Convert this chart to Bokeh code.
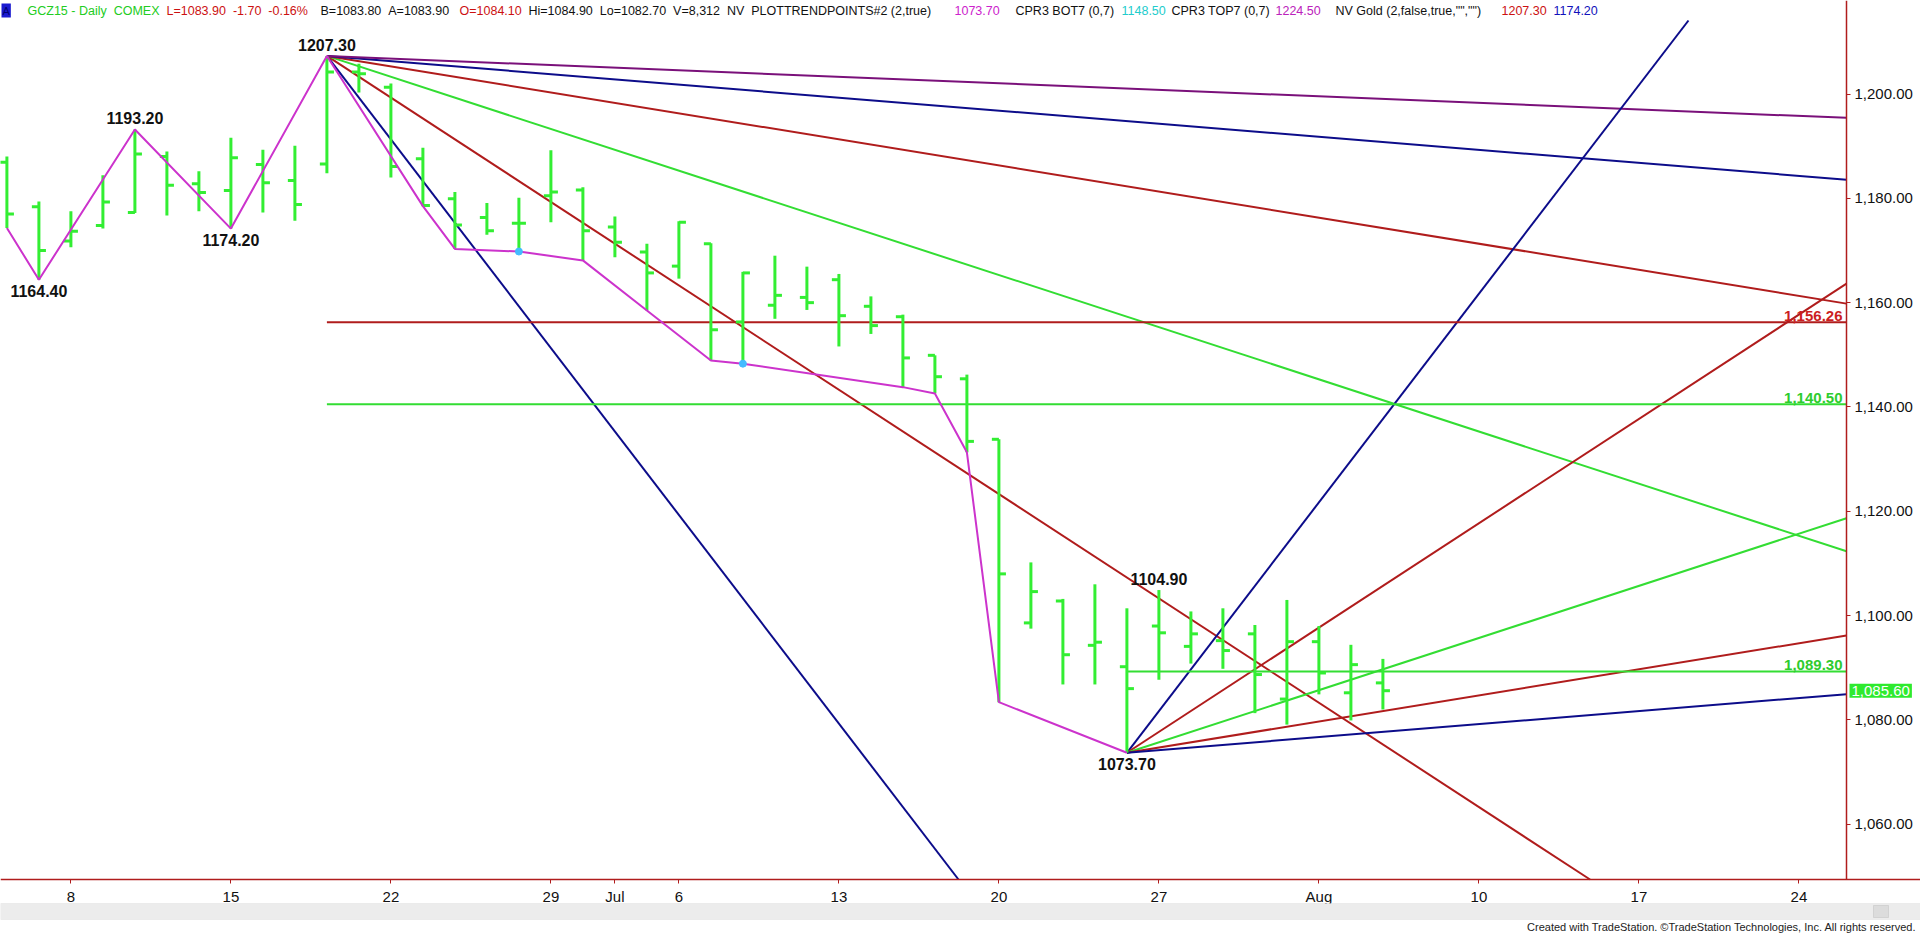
from bokeh.plotting import figure
from bokeh.models import (ColumnDataSource, FixedTicker, NumeralTickFormatter, Label,
                          BoxAnnotation, Range1d)
from bokeh.embed import file_html
from bokeh.resources import INLINE
from bokeh.core.properties import value

# ---------------- data ----------------
bar_dates = ["Jun 4", "Jun 5", "Jun 8", "Jun 9", "Jun 10", "Jun 11", "Jun 12", "Jun 15",
             "Jun 16", "Jun 17", "Jun 18", "Jun 19", "Jun 22", "Jun 23", "Jun 24", "Jun 25",
             "Jun 26", "Jun 29", "Jun 30", "Jul 1", "Jul 2", "Jul 6", "Jul 7", "Jul 8",
             "Jul 9", "Jul 10", "Jul 13", "Jul 14", "Jul 15", "Jul 16", "Jul 17", "Jul 20",
             "Jul 21", "Jul 22", "Jul 23", "Jul 24", "Jul 27", "Jul 28", "Jul 29", "Jul 30",
             "Jul 31", "Aug 3", "Aug 4", "Aug 5"]
opens = [1186.9, 1178.4, 1171.8, 1174.8, 1177.3, 1188.0, 1182.8, 1181.5, 1186.5, 1183.4,
         1186.6, 1204.2, 1201.3, 1187.6, 1179.9, 1176.3, 1175.2, 1180.5, 1181.6, 1174.5,
         1169.7, 1167.0, 1171.3, 1156.3, 1159.5, 1161.0, 1164.4, 1159.3, 1157.3, 1149.9,
         1145.4, 1133.8, 1098.6, 1102.8, 1094.3, 1090.2, 1098.0, 1094.1, 1095.2, 1096.5,
         1084.0, 1095.0, 1085.2, 1087.1]
highs = [1188.0, 1179.4, 1177.5, 1184.4, 1193.2, 1189.0, 1185.2, 1191.6, 1189.3, 1190.1,
         1207.3, 1205.8, 1202.0, 1189.7, 1181.2, 1179.1, 1180.1, 1189.2, 1182.1, 1176.5,
         1171.3, 1175.6, 1171.4, 1165.9, 1169.0, 1166.9, 1165.5, 1161.2, 1157.7, 1149.9,
         1146.2, 1133.8, 1110.2, 1103.2, 1106.0, 1101.4, 1104.9, 1100.8, 1101.4, 1098.2,
         1103.0, 1098.0, 1094.4, 1091.7]
lows = [1174.3, 1164.4, 1170.6, 1174.2, 1177.2, 1176.7, 1177.5, 1174.2, 1177.3, 1175.7,
        1184.8, 1200.3, 1184.0, 1178.5, 1170.3, 1173.0, 1169.8, 1175.4, 1168.1, 1168.7,
        1158.5, 1164.6, 1148.9, 1148.3, 1156.9, 1158.6, 1151.6, 1154.0, 1143.8, 1142.6,
        1131.3, 1083.4, 1097.5, 1086.8, 1086.8, 1073.7, 1087.7, 1090.8, 1089.8, 1081.3,
        1079.1, 1084.9, 1079.9, 1082.0]
closes = [1177.0, 1170.0, 1173.7, 1179.3, 1188.5, 1182.5, 1181.1, 1187.8, 1183.0, 1178.8,
          1204.2, 1203.9, 1186.1, 1178.6, 1174.9, 1173.8, 1175.2, 1181.2, 1173.8, 1171.6,
          1165.7, 1175.4, 1154.8, 1165.7, 1161.4, 1160.0, 1157.5, 1155.6, 1149.4, 1145.8,
          1133.4, 1108.0, 1104.6, 1092.5, 1094.9, 1086.0, 1096.7, 1096.5, 1093.3, 1088.7,
          1095.0, 1089.0, 1090.6, 1085.6]

# x-axis ticks (trading-day index -> label)
x_tick_idx = [2, 7, 12, 17, 19, 21, 26, 31, 36, 41, 46, 51, 56]
x_tick_labels = ["8", "15", "22", "29", "Jul", "6", "13", "20", "27", "Aug", "10", "17", "24"]
y_ticks = [1060, 1080, 1100, 1120, 1140, 1160, 1180, 1200]

# swing trend points (magenta)
trend_idx = [0, 1, 4, 7, 10, 13, 14, 16, 18, 20, 22, 23, 28, 29, 30, 31, 35]
trend_val = [1174.3, 1164.4, 1193.2, 1174.2, 1207.3, 1178.5, 1170.3, 1169.8, 1168.1,
             1158.5, 1148.9, 1148.3, 1143.8, 1142.6, 1131.3, 1083.4, 1073.7]
dot_idx = [16, 23]
dot_val = [1169.8, 1148.3]

# pivot labels
pivot_idx = [1, 4, 7, 10, 36, 35]
pivot_val = [1164.40, 1193.20, 1174.20, 1207.30, 1104.90, 1073.70]
pivot_side = ["below", "above", "below", "above", "above", "below"]

# Gann fans (price change per bar)
fan_high_idx, fan_high_val = 10, 1207.3
fan_high_rates = [-8, -4, -2, -1, -0.5, -0.25]
fan_high_colors = ["#0c0c8a", "#b01c1c", "#33dd33", "#b01c1c", "#0c0c8a", "#7a107a"]
fan_low_idx, fan_low_val = 35, 1073.7
fan_low_rates = [8, 4, 2, 1, 0.5]
fan_low_colors = ["#0c0c8a", "#b01c1c", "#33dd33", "#b01c1c", "#0c0c8a"]

# horizontal levels
level_vals = [1156.26, 1140.50, 1089.30]
level_start = [10, 10, 35]
level_colors = ["#b01c1c", "#33dd33", "#33dd33"]
level_text_colors = ["#cc1f1f", "#2ecc2e", "#2ecc2e"]
level_labels = ["1,156.26", "1,140.50", "1,089.30"]

last_price = 1085.60

S2 = " \u00a0"   # double space kept in SVG text
header_parts = [
    ("GCZ15 - Daily" + S2 + "COMEX", "#22cc22", 27),
    ("L=1083.90" + S2 + "-1.70" + S2 + "-0.16%", "#cc1111", 166),
    ("B=1083.80" + S2 + "A=1083.90", "#111111", 320),
    ("O=1084.10", "#cc1111", 459),
    ("Hi=1084.90" + S2 + "Lo=1082.70" + S2 + "V=8,312" + S2 + "NV" + S2 +
     "PLOTTRENDPOINTS#2 (2,true)", "#111111", 528),
    ("1073.70", "#cc22cc", 954),
    ("CPR3 BOT7 (0,7)", "#111111", 1015),
    ("1148.50", "#22cccc", 1121),
    ("CPR3 TOP7 (0,7)", "#111111", 1171),
    ("1224.50", "#bb22bb", 1275),
    ('NV Gold (2,false,true,"","")', "#111111", 1335),
    ("1207.30", "#cc1111", 1501),
    ("1174.20", "#1111bb", 1553),
]
footer_text = "Created with TradeStation. \u00a9TradeStation Technologies, Inc. All rights reserved."

# ---------------- layout (page pixels == canvas pixels) ----------------
W, H = 1920, 934
PX0, PXB = 6.4, 32.0            # page x of bar 0, pixels per bar
PY0, PXU = 93.5, 5.216          # page y of 1200.00, pixels per dollar
FONT = "Liberation Sans"

def xpage(px):
    return (px - PX0) / PXB

def ypage(py):
    return 1200 - (py - PY0) / PXU

X1v = xpage(1846)   # right edge of the price panel (bars)
Y0v = ypage(879)    # bottom of the price panel
Y1v = ypage(20)     # top of the price panel

p = figure(width=W, height=H, output_backend="svg", toolbar_location=None,
           x_range=Range1d(xpage(0), xpage(W)), y_range=Range1d(ypage(H), ypage(0)),
           y_axis_location="right", min_border=0,
           min_border_left=0, min_border_right=0, min_border_top=0, min_border_bottom=0,
           background_fill_color="white", border_fill_color="white",
           outline_line_color=None)
p.grid.visible = False

AX = "#b01c1c"
p.yaxis.ticker = FixedTicker(ticks=y_ticks)
p.yaxis.formatter = NumeralTickFormatter(format="0,0.00")
p.yaxis.fixed_location = X1v
p.yaxis.bounds = (Y0v, ypage(0))
p.xaxis.ticker = FixedTicker(ticks=x_tick_idx)
p.xaxis.major_label_overrides = {i: t for i, t in zip(x_tick_idx, x_tick_labels)}
p.xaxis.fixed_location = Y0v
for ax in (p.xaxis, p.yaxis):
    ax.axis_line_color = AX
    ax.axis_line_width = 1.5
    ax.major_tick_line_color = AX
    ax.major_tick_in = 0
    ax.major_tick_out = 4
    ax.minor_tick_line_color = None
    ax.major_label_text_font = FONT
    ax.major_label_text_font_size = "15px"
    ax.major_label_text_color = "#111111"
    ax.major_label_standoff = 4

def ray_end(x0, y0, rate):
    x_hit = x0 + ((Y1v if rate > 0 else Y0v) - y0) / rate
    xe = min(X1v, x_hit)
    return xe, y0 + rate * (xe - x0)

# fan lines
for x0, y0, rates, cols in ((fan_high_idx, fan_high_val, fan_high_rates, fan_high_colors),
                            (fan_low_idx, fan_low_val, fan_low_rates, fan_low_colors)):
    for rate, col in zip(rates, cols):
        xe, ye = ray_end(x0, y0, rate)
        p.segment(x0=[x0], y0=[y0], x1=[xe], y1=[ye], line_color=col, line_width=2)

# horizontal levels
for v, s, col in zip(level_vals, level_start, level_colors):
    p.segment(x0=[s], y0=[v], x1=[X1v], y1=[v], line_color=col, line_width=2)
p.text(x=[X1v] * 3, y=level_vals, text=level_labels, text_color=level_text_colors,
       text_align="right", text_baseline="bottom", x_offset=-4, y_offset=-1,
       text_font=value(FONT), text_font_size="15px", text_font_style="bold")

# OHLC bars
idx = list(range(len(bar_dates)))
src = ColumnDataSource(dict(x=idx, o=opens, h=highs, l=lows, c=closes,
                            xl=[i - 0.22 for i in idx], xr=[i + 0.22 for i in idx]))
BAR = "#33ee33"
p.segment(x0="x", y0="l", x1="x", y1="h", source=src, line_color=BAR, line_width=3)
p.segment(x0="xl", y0="o", x1="x", y1="o", source=src, line_color=BAR, line_width=3)
p.segment(x0="x", y0="c", x1="xr", y1="c", source=src, line_color=BAR, line_width=3)

# trend line
p.line(trend_idx, trend_val, line_color="#cc33cc", line_width=2)
p.scatter(dot_idx, dot_val, size=7, color="#44bbff")

# pivot labels
for i, v, side in zip(pivot_idx, pivot_val, pivot_side):
    p.text(x=[i], y=[v], text=[f"{v:.2f}"], text_align="center",
           text_baseline="bottom" if side == "above" else "top",
           y_offset=-5 if side == "above" else 5,
           text_font=value(FONT), text_font_size="16px", text_font_style="bold",
           text_color="#111111")

# last price marker on the price axis
p.add_layout(Label(x=xpage(1849), y=last_price,
                   text=f"{last_price:,.2f}", text_color="white", text_font=FONT,
                   text_font_size="15px", text_align="left", text_baseline="middle",
                   background_fill_color="#2eea2e", padding=2))

# header
p.add_layout(Label(x=xpage(1), y=ypage(10), text="A",
                   text_color="#000070", text_font=FONT, text_font_size="11px",
                   text_baseline="middle", background_fill_color="#1a1ad0", padding=1))
for txt, col, px in header_parts:
    p.text(x=[xpage(px)], y=[ypage(10)], text=[txt], text_color=col,
           text_font=value(FONT), text_font_size="12.5px",
           text_baseline="middle", text_align="left")

# scrollbar band & footer
p.add_layout(BoxAnnotation(left=xpage(0), right=xpage(W), bottom=ypage(919), top=ypage(903),
                           fill_color="#ececec", fill_alpha=1, line_color="#d4d4d4"))
p.add_layout(BoxAnnotation(left=xpage(1873), right=xpage(1888), bottom=ypage(917), top=ypage(905),
                           fill_color="#dcdcdc", fill_alpha=1, line_color="#a8a8a8"))
p.text(x=[xpage(6), xpage(1909)], y=[ypage(911)] * 2, text=["\u25c2", "\u25b8"],
       text_color="#777777", text_font=value("DejaVu Sans"), text_font_size="9px",
       text_align="center", text_baseline="middle")
p.text(x=[xpage(1916)], y=[ypage(926)], text=[footer_text],
       text_color="#222222", text_font=value(FONT), text_font_size="11px",
       text_align="right", text_baseline="middle")

open("out.html", "w").write(file_html(p, INLINE))
